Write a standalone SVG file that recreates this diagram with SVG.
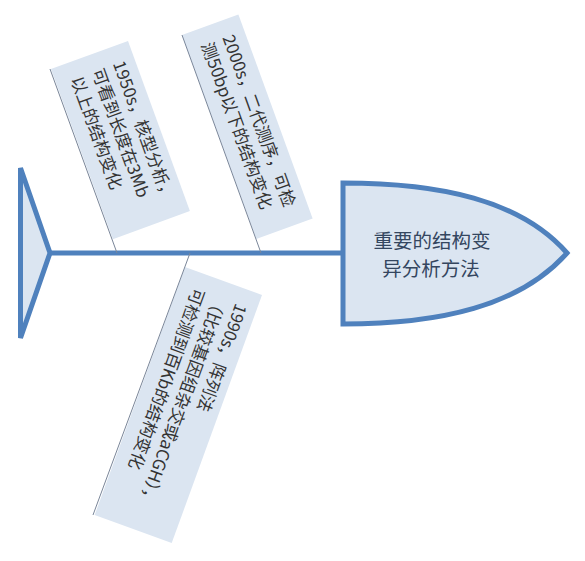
<svg xmlns="http://www.w3.org/2000/svg" width="585" height="561" viewBox="0 0 585 561">
<defs>
<style>
.body{fill:#dbe5f1;stroke:#4f81bd;stroke-width:5;stroke-linejoin:miter}
.box{fill:#dbe5f1;stroke:none}
.bt{font-family:"Noto Sans CJK SC","Liberation Sans",sans-serif;font-size:17px;fill:#333333}
.ht{font-family:"Noto Sans CJK SC","Liberation Sans",sans-serif;font-size:19.5px;fill:#34465f;text-anchor:middle}
.bone{stroke:#7a8699;stroke-width:1;fill:none}
.spine{stroke:#4f81bd;stroke-width:5;fill:none}
</style>
</defs>
<rect width="585" height="561" fill="#ffffff"/>
<g id="tail">
<polygon class="body" points="20.5,168 50,253 20.5,338"/>
</g>
<g id="spine-group">
<line class="spine" x1="50" y1="253" x2="343" y2="253"/>
</g>
<g id="head">
<path class="body" d="M343,183 C440,183 520,200 567,253 C520,306 440,324 343,324 Z"/>
<text class="ht" x="432" y="248">重要的结构变</text>
<text class="ht" x="431" y="276">异分析方法</text>
</g>
<g id="node-1950s" transform="translate(128,41) rotate(70)">
<rect class="box" x="0" y="0" width="181" height="82"/>
<text class="bt" x="16" y="22">1950s，核型分析，</text>
<text class="bt" x="16" y="44.5">可看到长度在3Mb</text>
<text class="bt" x="16" y="67">以上的结构变化</text>
</g>
<g id="node-2000s" transform="translate(238.4,14.5) rotate(70)">
<rect class="box" x="0" y="0" width="217" height="60"/>
<text class="bt" x="16" y="23">2000s，二代测序，可检</text>
<text class="bt" x="16" y="45.5">测50bp以下的结构变化</text>
</g>
<g id="node-1990s" transform="translate(262,295) rotate(110)">
<rect class="box" x="0" y="0" width="264" height="82"/>
<text class="bt" x="16" y="22">1990s，阵列法</text>
<text class="bt" x="16" y="44.5">（比较基因组杂交或aCGH），</text>
<text class="bt" x="16" y="67">可检测到百Kb的结构变化</text>
</g>
<g id="connectors">
<line class="bone" x1="50" y1="69" x2="117" y2="253"/>
<line class="bone" x1="182" y1="35" x2="261" y2="253"/>
<line class="bone" x1="190" y1="253" x2="93" y2="515"/>
</g>
</svg>
